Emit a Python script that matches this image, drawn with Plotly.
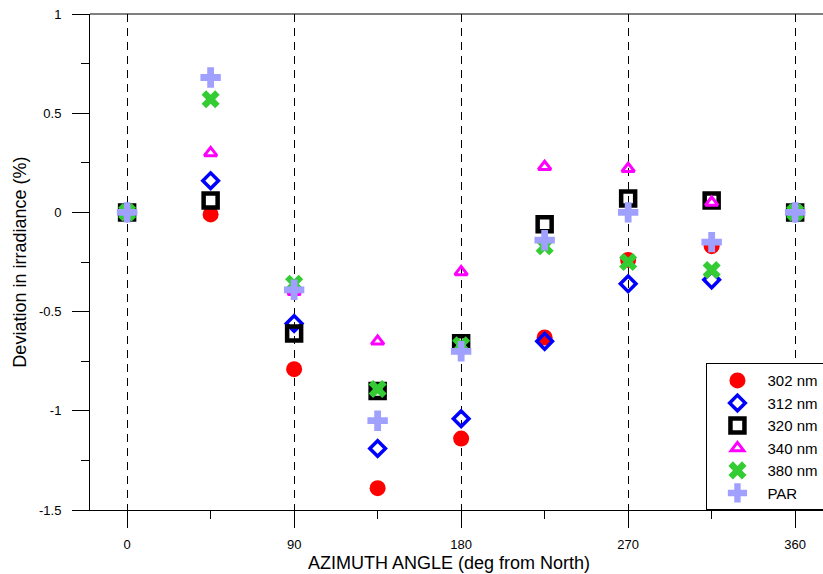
import plotly.graph_objects as go

azimuth = [0, 45, 90, 135, 180, 225, 270, 315, 360]
series_names = ["302 nm", "312 nm", "320 nm", "340 nm", "380 nm", "PAR"]
v302 = [0, -0.01, -0.79, -1.39, -1.14, -0.63, -0.24, -0.17, 0]
v312 = [0, 0.16, -0.56, -1.19, -1.04, -0.65, -0.36, -0.34, 0]
v320 = [0, 0.06, -0.61, -0.90, -0.66, -0.06, 0.07, 0.06, 0]
v340 = [0, 0.30, -0.40, -0.65, -0.30, 0.23, 0.22, 0.05, 0]
v380 = [0, 0.57, -0.36, -0.89, -0.67, -0.17, -0.25, -0.29, 0]
vpar = [0, 0.68, -0.39, -1.05, -0.70, -0.14, 0.00, -0.15, 0]

x_ticks = [0, 90, 180, 270, 360]
y_ticks = [1, 0.5, 0, -0.5, -1, -1.5]
y_tick_text = ["1", "0.5", "0", "-0.5", "-1", "-1.5"]

x_title = "AZIMUTH ANGLE (deg from North)"
y_title = "Deviation in irradiance (%)"

styles = [
    dict(symbol="circle", size=16, color="#ff0000"),
    dict(symbol="diamond-open", size=12, color="#0000ff", line=dict(width=3.5, color="#0000ff")),
    dict(symbol="square-open", size=14, color="#000000", line=dict(width=4.5, color="#000000")),
    dict(symbol="triangle-up-open", size=11, color="#ff00ff", line=dict(width=3, color="#ff00ff")),
    dict(symbol="x", size=16, color="#33cc33", line=dict(width=0)),
    dict(symbol="cross", size=17, color="#a0a0ff", line=dict(width=0)),
]

fig = go.Figure()
for name, vals, st in zip(series_names, [v302, v312, v320, v340, v380, vpar], styles):
    fig.add_trace(go.Scatter(x=azimuth, y=vals, mode="markers", name=name, marker=st))

fig.update_layout(
    width=823, height=574,
    margin=dict(l=90, r=0, t=14, b=64, autoexpand=False),
    plot_bgcolor="white", paper_bgcolor="white",
    font=dict(family="Liberation Sans, Arial, sans-serif", color="black", size=13),
    showlegend=True,
    legend=dict(x=0.841, xanchor="left", y=0.296, yanchor="top",
                bgcolor="white", bordercolor="black", borderwidth=1,
                font=dict(size=15), tracegroupgap=0, itemsizing="trace", itemwidth=50),
    xaxis=dict(range=[-20, 375], tickvals=x_ticks, ticks="outside", ticklen=17,
               tickcolor="black", showline=True, linecolor="black", linewidth=1,
               showgrid=True, gridcolor="black", griddash="8px,6px", gridwidth=1,
               zeroline=False, ticklabelstandoff=5, automargin=False,
               minor=dict(tickvals=[45, 135, 225, 315], ticks="outside", ticklen=8, tickcolor="black", showgrid=False)),
    yaxis=dict(range=[-1.5, 1], tickvals=y_ticks, ticktext=y_tick_text, ticks="outside", ticklen=17,
               tickcolor="black", showline=True, linecolor="black", linewidth=1,
               showgrid=False, zeroline=False, ticklabelstandoff=8, automargin=False,
               minor=dict(tickvals=[0.75, 0.25, -0.25, -0.75, -1.25], ticks="outside", ticklen=8, tickcolor="black", showgrid=False)),
    shapes=[dict(type="line", xref="paper", yref="paper", x0=0, x1=1, y0=1, y1=1,
                 line=dict(color="black", width=1))],
    annotations=[
        dict(text=x_title, xref="paper", yref="paper", x=0.49, y=-0.107, xanchor="center", yanchor="middle",
             showarrow=False, font=dict(size=18)),
        dict(text=y_title, xref="paper", yref="paper", x=-0.096, y=0.5, xanchor="center", yanchor="middle",
             textangle=-90, showarrow=False, font=dict(size=18)),
    ],
)

fig.write_html("out.html", config={"displayModeBar": False},
               post_script="document.body.style.margin='0';")
